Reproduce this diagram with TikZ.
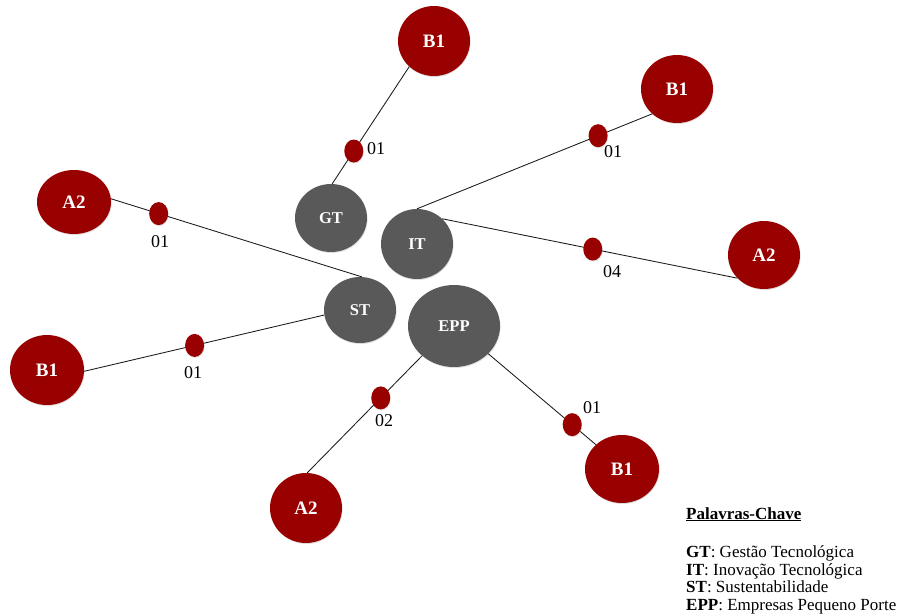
\documentclass[tikz,border=0pt]{standalone}
\usepackage{fontspec}
\setmainfont{Liberation Serif}
\usetikzlibrary{shapes.geometric,shadows}
\definecolor{keyred}{RGB}{153,0,0}
\definecolor{keygrey}{RGB}{89,89,89}
\begin{document}
\begin{tikzpicture}[x=1pt,y=-1pt,
  blob/.style={ellipse, inner sep=0pt, text=white,
    drop shadow={opacity=0.25, shadow xshift=0.6pt, shadow yshift=-1pt}},
  kw/.style={blob, fill=keygrey, font=\fontsize{16.5}{16.5}\selectfont\bfseries},
  qual/.style={blob, fill=keyred, font=\fontsize{19}{19}\selectfont\bfseries},
  hub/.style={blob, fill=keyred, minimum width=19pt, minimum height=23pt},
  cnt/.style={font=\fontsize{18}{18}\selectfont, text=black, inner sep=0pt},
  link/.style={draw=black!90, line width=0.85pt},
  legend/.style={font=\fontsize{17}{18}\selectfont, inner sep=0pt, anchor=base west}
]
\useasboundingbox (0,0) rectangle (900,616);

% keyword nodes
\node[kw, minimum width=72pt, minimum height=68pt] (gt)  at (331,218) {GT};
\node[kw, minimum width=72pt, minimum height=70pt] (it)  at (417,244) {IT};
\node[kw, minimum width=72pt, minimum height=66pt] (st)  at (360,310) {ST};
\node[kw, minimum width=92pt, minimum height=82pt] (epp) at (454,326) {EPP};

% journal strata
\node[qual, minimum width=72pt, minimum height=70pt] (b1a) at (434,41)  {B1};
\node[qual, minimum width=72pt, minimum height=68pt] (b1b) at (677,89)  {B1};
\node[qual, minimum width=74pt, minimum height=64pt] (a2a) at (74,202)  {A2};
\node[qual, minimum width=72pt, minimum height=68pt] (a2b) at (764,255) {A2};
\node[qual, minimum width=74pt, minimum height=70pt] (b1c) at (47,370)  {B1};
\node[qual, minimum width=72pt, minimum height=70pt] (a2c) at (306,508) {A2};
\node[qual, minimum width=74pt, minimum height=68pt] (b1d) at (622,469) {B1};

% links with count markers
\draw[link] (gt.88)   -- node[hub, pos=0.28] (d1) {} (b1a.226);
\draw[link] (it.90)   -- node[hub, pos=0.77] (d2) {} (b1b.225);
\draw[link] (it.45)   -- node[hub, pos=0.51] (d3) {} (a2b.221);
\draw[link] (st.87)   -- node[hub, pos=0.81] (d4) {} (a2a.5);
\draw[link] (st.188)  -- node[hub, pos=0.54] (d5) {} (b1c.358);
\draw[link] (epp.223) -- node[hub, pos=0.36] (d6) {} (a2c.88);
\draw[link] (epp.321) -- node[hub, pos=0.78] (d7) {} (b1d.137);

% counts
\node[cnt] (c1) at (376,149) {01};
\node[cnt] (c2) at (613,152) {01};
\node[cnt] (c3) at (612,272) {04};
\node[cnt] (c4) at (160,242) {01};
\node[cnt] (c5) at (193,373) {01};
\node[cnt] (c6) at (384,421) {02};
\node[cnt] (c7) at (592,408) {01};

% legend
\node[legend] (lh)   at (686,519) {\textbf{\underline{Palavras-Chave}}};
\node[legend] (lgt)  at (686,557) {\textbf{GT}: Gestão Tecnológica};
\node[legend] (lit)  at (686,575) {\textbf{IT}: Inovação Tecnológica};
\node[legend] (lst)  at (686,592) {\textbf{ST}: Sustentabilidade};
\node[legend] (lepp) at (686,610) {\textbf{EPP}: Empresas Pequeno Porte};
\end{tikzpicture}
\end{document}
